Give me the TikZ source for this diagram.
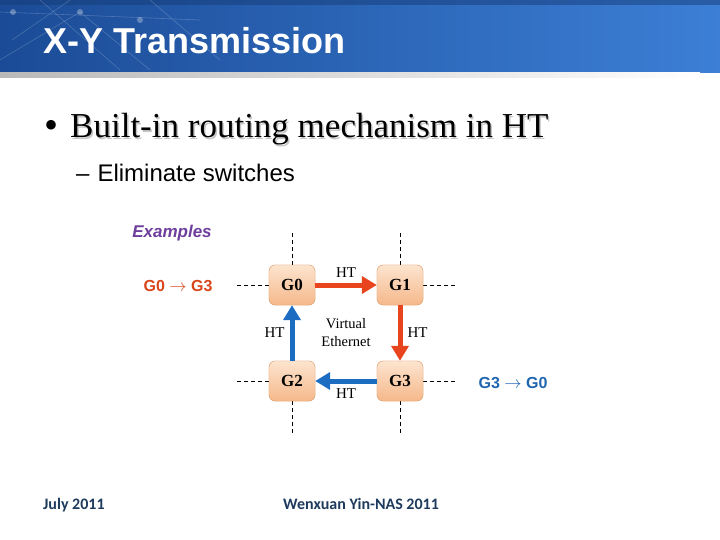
\documentclass[tikz,border=0pt]{standalone}
\usepackage{fontspec}
\setmainfont{Liberation Serif}
\newfontfamily\arialfont{Liberation Sans}
\newfontfamily\footfont{Carlito}
\usetikzlibrary{arrows.meta}

\definecolor{bandleft}{HTML}{1B4B96}
\definecolor{bandright}{HTML}{3C7FD6}
\definecolor{htred}{HTML}{E8451E}
\definecolor{htblue}{HTML}{1C6DC1}
\definecolor{expurple}{HTML}{6E3E9C}
\definecolor{exred}{HTML}{D9461C}
\definecolor{exblue}{HTML}{1F66B0}
\definecolor{boxtop}{HTML}{FDE4CF}
\definecolor{boxbot}{HTML}{F5B88A}
\definecolor{boxline}{HTML}{E0A574}
\definecolor{footblue}{HTML}{1E3A5C}

\begin{document}
\begin{tikzpicture}[x=1pt,y=-1pt,
  gbox/.style={rounded corners=6pt,draw=boxline,top color=boxtop,bottom color=boxbot,
    minimum width=46pt,minimum height=40pt,font=\fontsize{17}{19}\selectfont\bfseries},
  link/.style={line width=5pt,-{Triangle[length=15pt,width=17pt]}},
  gridline/.style={line width=0.7pt,dash pattern=on 4pt off 3pt},
  lab/.style={text=black,font=\fontsize{15}{17}\selectfont,inner sep=2pt}]
\useasboundingbox (0,0) rectangle (720,540);

% title band
\shade[left color=bandleft,right color=bandright] (0,0) rectangle (720,73);
\fill[bandleft!80!black,opacity=0.5] (0,0) rectangle (720,5);
\shade[left color=gray!55,right color=white] (0,73) rectangle (700,78);
\foreach \a/\b in {{(0,12)/(200,20)},{(12,40)/(70,0)},{(40,0)/(120,70)},{(80,12)/(150,70)},{(150,0)/(220,60)},{(0,60)/(80,12)}}
  \draw[white,opacity=0.2,line width=0.6pt] \a -- \b;
\foreach \p in {(13,12),(80,12),(140,20)}
  \fill[white,opacity=0.3] \p circle (3);
\node[anchor=base west,inner sep=0,white,font=\arialfont\fontsize{36}{40}\selectfont\bfseries] (title) at (43,54) {X-Y Transmission};

% bullets
\node[inner sep=0,font=\fontsize{40}{40}\selectfont] (dot) at (52,129) {\textbullet};
\node[anchor=base west,inner sep=0,gray!45,font=\fontsize{35}{38}\selectfont] at (71.5,139.5) {Built-in routing mechanism in HT};
\node[anchor=base west,inner sep=0,font=\fontsize{35}{38}\selectfont] (point) at (70,138) {Built-in routing mechanism in HT};
\node[anchor=base west,inner sep=0,font=\arialfont\fontsize{24}{27}\selectfont] (sub) at (76,182) {–\hspace{8pt}Eliminate switches};

\node[expurple,font=\arialfont\fontsize{17}{20}\selectfont\bfseries\itshape] (ex) at (172,233) {Examples};
\node[exred,font=\arialfont\fontsize{16}{19}\selectfont\bfseries] (fwd) at (178,286) {G0 $\rightarrow$ G3};
\node[exblue,font=\arialfont\fontsize{16}{19}\selectfont\bfseries] (back) at (513,383) {G3 $\rightarrow$ G0};

% dashed grid
\coordinate (n) at (0,232);
\coordinate (s) at (0,436);
\coordinate (w) at (234,0);
\coordinate (e) at (456,0);
\node[gbox] (g0) at (292,285) {};
\node[gbox] (g1) at (400,285) {};
\node[gbox] (g2) at (292,381) {};
\node[gbox] (g3) at (400,381) {};
\draw[gridline] (g0.north) -- (g0.north |- n);
\draw[gridline] (g1.north) -- (g1.north |- n);
\draw[gridline] (g2.south) -- (g2.south |- s);
\draw[gridline] (g3.south) -- (g3.south |- s);
\draw[gridline] (g0.west) -- (g0.west -| w);
\draw[gridline] (g2.west) -- (g2.west -| w);
\draw[gridline] (g1.east) -- (g1.east -| e);
\draw[gridline] (g3.east) -- (g3.east -| e);
\foreach \g/\t in {g0/G0,g1/G1,g2/G2,g3/G3}
  \node[gbox] at (\g) {\t};

% HT links
\draw[link,htred] (g0.east) -- (g1.west) node[lab,midway,above=3pt] (ht1) {HT};
\draw[link,htred] (g1.south) -- (g3.north) node[lab,midway,right=3pt] (ht2) {HT};
\draw[link,htblue] (g3.west) -- (g2.east) node[lab,midway,below=3pt] (ht3) {HT};
\draw[link,htblue] (g2.north) -- (g0.south) node[lab,midway,left=3pt] (ht4) {HT};
\node[lab,align=center,font=\fontsize{14.5}{18}\selectfont] (veth) at (346,333) {Virtual\\Ethernet};

% footer
\node[anchor=base west,inner sep=0,footblue,font=\footfont\fontsize{16}{18}\selectfont\bfseries] (date) at (43,509) {July 2011};
\node[anchor=base west,inner sep=0,footblue,font=\footfont\fontsize{16}{18}\selectfont\bfseries] (conf) at (283,509) {Wenxuan Yin-NAS 2011};
\end{tikzpicture}
\end{document}
